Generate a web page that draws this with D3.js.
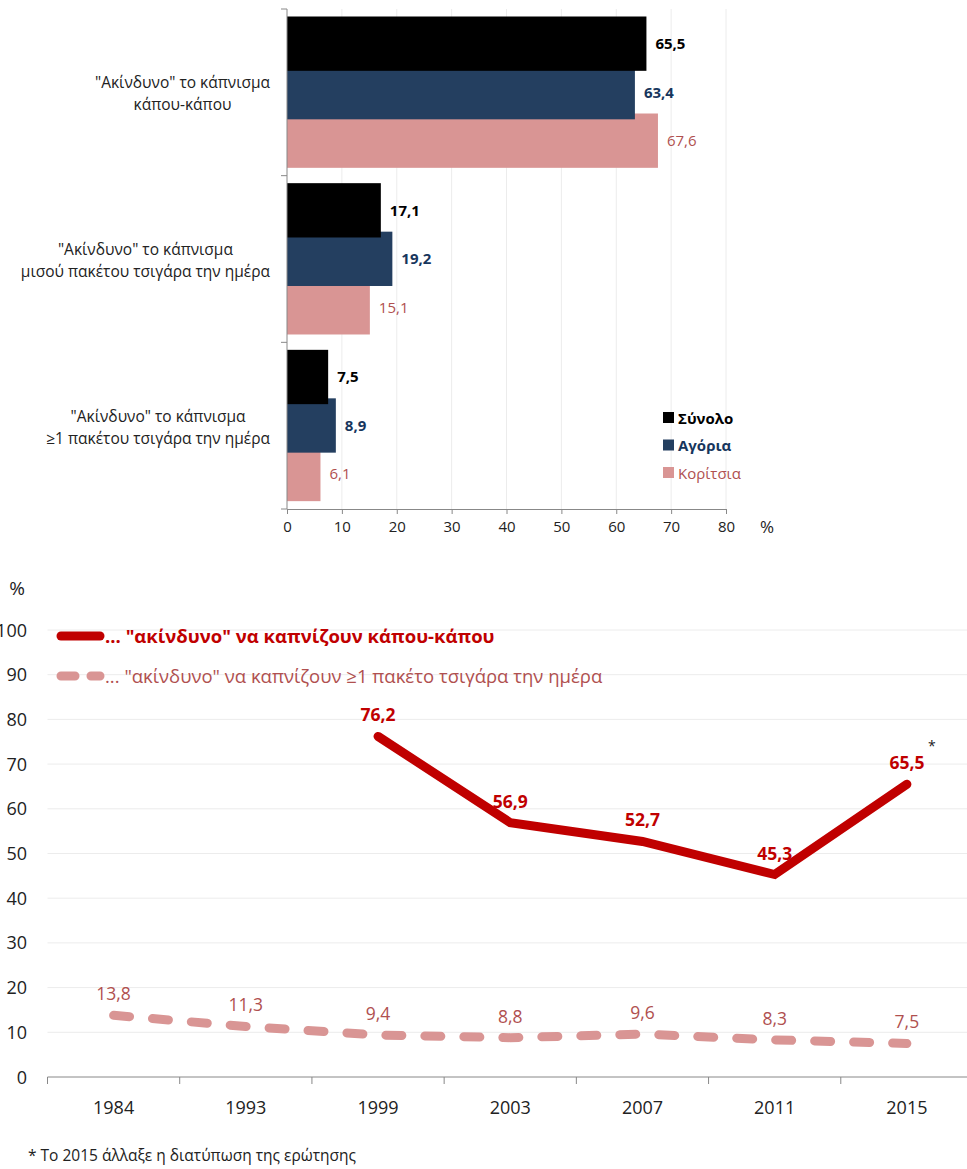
<!DOCTYPE html>
<html>
<head>
<meta charset="utf-8">
<script src="https://cdn.jsdelivr.net/npm/d3@7"></script>
<style>
  body { margin: 0; background: #fff; }
  svg { display: block; font-family: "Open Sans", "Noto Sans", sans-serif; }
</style>
</head>
<body>
<div id="chart"></div>
<script>
// top chart data
var categories = [
    ["\"Ακίνδυνο\" το κάπνισμα", "κάπου-κάπου"],
    ["\"Ακίνδυνο\" το κάπνισμα", "μισού πακέτου τσιγάρα την ημέρα"],
    ["\"Ακίνδυνο\" το κάπνισμα", "≥1 πακέτου τσιγάρα την ημέρα"]
];
var seriesNames = ["Σύνολο", "Αγόρια", "Κορίτσια"];
var totalValues = [65.5, 17.1, 7.5];
var boysValues = [63.4, 19.2, 8.9];
var girlsValues = [67.6, 15.1, 6.1];
var barTicks = [0, 10, 20, 30, 40, 50, 60, 70, 80];

// bottom chart data
var years = ["1984", "1993", "1999", "2003", "2007", "2011", "2015"];
var sometimesValues = [null, null, 76.2, 56.9, 52.7, 45.3, 65.5];
var packValues = [13.8, 11.3, 9.4, 8.8, 9.6, 8.3, 7.5];
var lineTicks = [0, 10, 20, 30, 40, 50, 60, 70, 80, 90, 100];

var seriesColors = ["#000000", "#243f60", "#d99594"];
var labelColors = ["#000000", "#17365d", "#b0504f"];
var labelWeights = ["bold", "bold", "normal"];
var red = "#c00000", pink = "#d99594", pinkText = "#b0504f";

var locale = d3.formatLocale({ decimal: ",", thousands: ".", grouping: [3], currency: ["", "€"] });
var fmt = locale.format(".1f");

var width = 967, height = 1169;
var svg = d3.select("#chart").append("svg")
    .attr("width", width)
    .attr("height", height);

// ---------- top: horizontal bars ----------
var barRows = [totalValues, boysValues, girlsValues];

var x = d3.scaleLinear().domain([0, 80]).range([287, 726]);
var yCat = d3.scaleBand().domain(d3.range(categories.length)).range([9, 509]);
var ySer = d3.scaleBand().domain(d3.range(seriesNames.length)).range([7.5, 153]);
var barH = ySer.bandwidth() * 1.12;

var barChart = svg.append("g");

// vertical grid
barChart.append("g").selectAll("line")
    .data(barTicks.slice(1))
    .enter().append("line")
    .attr("x1", function (d) { return x(d); })
    .attr("x2", function (d) { return x(d); })
    .attr("y1", 9).attr("y2", 509)
    .attr("stroke", "#ececec");

// bars, drawn last series first so "Σύνολο" sits on top
var groups = barChart.selectAll(".cat")
    .data(categories)
    .enter().append("g")
    .attr("class", "cat")
    .attr("transform", function (d, i) { return "translate(0," + yCat(i) + ")"; });

groups.each(function (c, ci) {
    var g = d3.select(this);
    var order = d3.range(seriesNames.length).reverse();
    order.forEach(function (si) {
        var v = barRows[si][ci];
        g.append("rect")
            .attr("x", x(0))
            .attr("y", ySer(si))
            .attr("width", x(v) - x(0))
            .attr("height", barH)
            .attr("fill", seriesColors[si]);
    });
    d3.range(seriesNames.length).forEach(function (si) {
        var v = barRows[si][ci];
        g.append("text")
            .attr("x", x(v) + 9)
            .attr("y", ySer(si) + barH / 2 + 5.5)
            .attr("font-size", 15)
            .attr("font-weight", labelWeights[si])
            .attr("fill", labelColors[si])
            .text(fmt(v));
    });
    // category label, block right edge at 270, lines centered
    var texts = g.append("g").selectAll("text")
        .data(c).enter().append("text")
        .attr("font-size", 15.5)
        .attr("fill", "#222")
        .attr("text-anchor", "middle")
        .attr("y", function (d, k) { return yCat.bandwidth() / 2 - 4 + k * 22; })
        .text(function (d) { return d; });
    var maxW = 0;
    texts.each(function () { maxW = Math.max(maxW, this.getComputedTextLength()); });
    texts.attr("x", 270 - maxW / 2);
});

// axes
var xAxis = barChart.append("g")
    .attr("transform", "translate(0,509)")
    .call(d3.axisBottom(x).tickValues(barTicks).tickSize(5).tickFormat(d3.format("d")));
xAxis.select(".domain").attr("stroke", "#888");
xAxis.selectAll(".tick line").attr("stroke", "#888");
xAxis.selectAll(".tick text").attr("font-size", 15).attr("fill", "#222").attr("dy", "1.0em")
    .style("font-family", "'Open Sans', 'Noto Sans', sans-serif");

var yEdges = yCat.domain().map(function (i) { return yCat(i); }).concat([yCat.range()[1]]);
barChart.append("line")
    .attr("x1", x(0)).attr("x2", x(0)).attr("y1", 9).attr("y2", 509)
    .attr("stroke", "#888");
barChart.append("g").selectAll("line")
    .data(yEdges).enter().append("line")
    .attr("x1", x(0) - 6).attr("x2", x(0))
    .attr("y1", function (d) { return d; }).attr("y2", function (d) { return d; })
    .attr("stroke", "#888");

barChart.append("text").attr("x", 767).attr("y", 533)
    .attr("font-size", 17).attr("fill", "#222").attr("text-anchor", "middle").text("%");

// legend
var leg = barChart.append("g").selectAll("g")
    .data(seriesNames).enter().append("g")
    .attr("transform", function (d, i) { return "translate(663," + (418 + i * 27.5) + ")"; });
leg.append("rect").attr("x", 0).attr("y", -6).attr("width", 11).attr("height", 11)
    .attr("fill", function (d, i) { return seriesColors[i]; });
leg.append("text").attr("x", 15).attr("y", 5.5)
    .attr("font-size", 15)
    .attr("font-weight", function (d, i) { return labelWeights[i]; })
    .attr("fill", function (d, i) { return labelColors[i]; })
    .text(function (d) { return d; });

// ---------- bottom: lines ----------
var xb = d3.scaleBand().domain(years).range([47.5, 973]);
var yb = d3.scaleLinear().domain([0, 100]).range([1077, 630]);
var cx = function (i) { return xb(years[i]) + xb.bandwidth() / 2; };

var lineChart = svg.append("g");

lineChart.append("g").selectAll("line")
    .data(lineTicks.slice(1)).enter().append("line")
    .attr("x1", 47.5).attr("x2", width)
    .attr("y1", function (d) { return yb(d); }).attr("y2", function (d) { return yb(d); })
    .attr("stroke", "#ececec");

lineChart.append("g").selectAll("text")
    .data(lineTicks).enter().append("text")
    .attr("x", 27).attr("y", function (d) { return yb(d) + 6.5; })
    .attr("text-anchor", "end").attr("font-size", 18).attr("fill", "#222")
    .text(function (d) { return d; });

lineChart.append("text").attr("x", 17).attr("y", 595).attr("font-size", 19)
    .attr("fill", "#222").attr("text-anchor", "middle").text("%");

var xbAxis = lineChart.append("g")
    .attr("transform", "translate(0,1077)");
xbAxis.append("line").attr("x1", 47.5).attr("x2", width).attr("stroke", "#888");
xbAxis.selectAll(".tk")
    .data(years).enter().append("line")
    .attr("x1", function (d) { return xb(d); }).attr("x2", function (d) { return xb(d); })
    .attr("y1", 0).attr("y2", 7).attr("stroke", "#888");
xbAxis.selectAll(".yr")
    .data(years).enter().append("text")
    .attr("x", function (d) { return xb(d) + xb.bandwidth() / 2; })
    .attr("y", 37).attr("text-anchor", "middle").attr("font-size", 18).attr("fill", "#222")
    .text(function (d) { return d; });

var line = d3.line()
    .defined(function (d) { return d != null; })
    .x(function (d, i) { return cx(i); })
    .y(function (d) { return yb(d); });

lineChart.append("path")
    .attr("d", line(packValues))
    .attr("fill", "none").attr("stroke", pink).attr("stroke-width", 9)
    .attr("stroke-linecap", "round").attr("stroke-dasharray", "16,23");

lineChart.append("path")
    .attr("d", line(sometimesValues))
    .attr("fill", "none").attr("stroke", red).attr("stroke-width", 9)
    .attr("stroke-linecap", "round").attr("stroke-linejoin", "miter");

lineChart.append("g").selectAll("text")
    .data(packValues).enter().append("text")
    .attr("x", function (d, i) { return cx(i); })
    .attr("y", function (d) { return yb(d) - 15; })
    .attr("text-anchor", "middle").attr("font-size", 17.5).attr("fill", pinkText)
    .text(function (d) { return fmt(d); });

lineChart.append("g").selectAll("text")
    .data(sometimesValues).enter()
    .filter(function (d) { return d != null; })
    .append("text")
    .attr("x", function (d) { return cx(sometimesValues.indexOf(d)); })
    .attr("y", function (d) { return yb(d) - 15; })
    .attr("text-anchor", "middle").attr("font-size", 17.5).attr("font-weight", "bold").attr("fill", red)
    .text(function (d) { return fmt(d); });

lineChart.append("text").attr("x", cx(6) + 21).attr("y", yb(65.5) - 33)
    .attr("font-size", 14).attr("fill", "#222").text("*");

// legend
lineChart.append("line").attr("x1", 61).attr("x2", 100).attr("y1", 636).attr("y2", 636)
    .attr("stroke", red).attr("stroke-width", 9).attr("stroke-linecap", "round");
lineChart.append("text").attr("x", 105).attr("y", 642.5).attr("font-size", 18.5).attr("font-weight", "bold")
    .attr("fill", red).text("... \"ακίνδυνο\" να καπνίζουν κάπου-κάπου");
lineChart.append("line").attr("x1", 61).attr("x2", 100).attr("y1", 676).attr("y2", 676)
    .attr("stroke", pink).attr("stroke-width", 9).attr("stroke-linecap", "round")
    .attr("stroke-dasharray", "14,16");
lineChart.append("text").attr("x", 105).attr("y", 682.5).attr("font-size", 18.5)
    .attr("fill", pinkText).text("... \"ακίνδυνο\" να καπνίζουν ≥1 πακέτο τσιγάρα την ημέρα");

svg.append("text").attr("x", 28).attr("y", 1161).attr("font-size", 15.5).attr("fill", "#222")
    .text("* Το 2015 άλλαξε η διατύπωση της ερώτησης");
</script>
</body>
</html>
